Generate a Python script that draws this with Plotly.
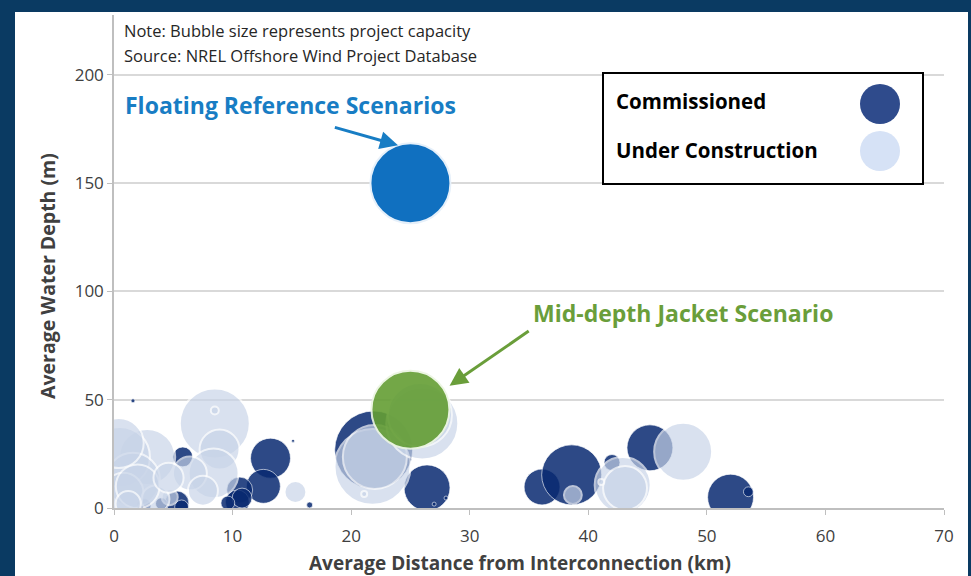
import plotly.graph_objects as go

# ---------------- data ----------------
# Commissioned projects: distance (km), depth (m), capacity (MW)
comm_x = [1.6, 36.1, 38.6, 42.0, 45.2, 52.0, 21.9, 26.4, 28.0, 27.0, 16.5, 15.1,
          13.2, 12.6, 10.6, 5.8, 5.3, 10.4, 10.8, 9.6, 5.7, 4.0, 2.5, 53.5]
comm_y = [49.5, 9.7, 15.3, 21.0, 27.8, 5.0, 26.8, 9.3, 4.6, 1.8, 1.4, 31.0,
          23.0, 10.0, 8.3, 23.6, 2.3, 2.8, 4.6, 2.3, 0.5, 2.0, 1.0, 7.5]
comm_cap = [1.5, 121, 338, 24, 198, 198, 570, 198, 1.5, 1.5, 3.4, 0.5,
            150, 108, 63, 37, 54, 54, 37, 18, 18, 13, 20, 9]

# Under construction projects
uc_x = [38.7, 42.9, 43.1, 41.1, 48.0, 21.8, 22.0, 21.1, 15.3, 8.5, 8.5, 8.9,
        2.8, 0.5, 8.4, 6.4, 4.7, 1.6, 0.8, 26.0, 25.8, 3.5, 7.5,
        0.4, 2.0, 4.6, 1.2]
uc_y = [6.0, 10.6, 9.2, 12.0, 26.0, 19.0, 23.6, 6.5, 7.4, 39.0, 45.0, 27.0,
        23.6, 23.6, 16.0, 16.0, 5.0, 13.0, 7.0, 39.0, 43.0, 4.0, 8.0,
        30.0, 10.0, 14.0, 2.0]
uc_cap = [30, 294, 181, 3.4, 315, 541, 384, 3.4, 45, 459, 6, 150,
          294, 338, 234, 108, 24, 273, 150, 486, 384, 73, 84,
          234, 180, 85, 60]

# Reference scenarios
float_x, float_y, float_cap = [25.0], [150.0], [600]
mid_x, mid_y, mid_cap = [25.0], [45.4], [570]

x_ticks = [0, 10, 20, 30, 40, 50, 60, 70]
y_ticks = [0, 50, 100, 150, 200]

SIZEREF = 0.1875
FONT = "Open Sans"
TXT = "#404040"

fig = go.Figure()

fig.add_trace(go.Scatter(
    x=comm_x, y=comm_y, mode="markers", name="Commissioned",
    marker=dict(size=comm_cap, sizemode="area", sizeref=SIZEREF, sizemin=1.5,
                color="rgb(9,42,113)", opacity=0.85,
                line=dict(color="rgba(255,255,255,0.7)", width=1)),
    showlegend=False, hoverinfo="x+y"))

fig.add_trace(go.Scatter(
    x=uc_x, y=uc_y, mode="markers", name="Under Construction",
    marker=dict(size=uc_cap, sizemode="area", sizeref=SIZEREF, sizemin=1.5,
                color="rgb(200,212,232)", opacity=0.68,
                line=dict(color="white", width=2)),
    showlegend=False, hoverinfo="x+y"))

fig.add_trace(go.Scatter(
    x=mid_x, y=mid_y, mode="markers", name="Mid-depth Jacket Scenario",
    marker=dict(size=mid_cap, sizemode="area", sizeref=SIZEREF,
                color="rgb(100,158,52)", opacity=0.9,
                line=dict(color="rgba(235,245,225,1)", width=2)),
    showlegend=False, hoverinfo="x+y"))

fig.add_trace(go.Scatter(
    x=float_x, y=float_y, mode="markers", name="Floating Reference Scenarios",
    marker=dict(size=float_cap, sizemode="area", sizeref=SIZEREF,
                color="rgb(16,112,192)", opacity=1,
                line=dict(color="rgba(230,240,250,1)", width=2)),
    showlegend=False, hoverinfo="x+y"))

# ---------------- layout ----------------
L, R, T, B = 114, 27, 15, 68
W, H = 971, 576
pw, ph = W - L - R, H - T - B

def px_x(p):
    return (p - L) / pw

def px_y(p):
    return (H - B - p) / ph

shapes = [
    # white page panel
    dict(type="rect", xref="paper", yref="paper", x0=px_x(15), x1=px_x(968),
         y0=px_y(580), y1=px_y(12), fillcolor="white", line=dict(width=0),
         layer="below"),
    # legend box
    dict(type="rect", xref="paper", yref="paper", x0=px_x(603), x1=px_x(923),
         y0=px_y(184), y1=px_y(73), fillcolor="white",
         line=dict(color="black", width=2), layer="above"),
    dict(type="circle", xref="paper", yref="paper",
         x0=px_x(860), x1=px_x(900), y0=px_y(124), y1=px_y(84),
         fillcolor="rgb(47,75,140)", line=dict(width=0)),
    dict(type="circle", xref="paper", yref="paper",
         x0=px_x(860), x1=px_x(900), y0=px_y(171), y1=px_y(131),
         fillcolor="rgb(214,226,246)", line=dict(width=0)),
]

annotations = [
    dict(text="Note: Bubble size represents project capacity", xref="paper", yref="paper",
         x=px_x(122), y=px_y(30), xanchor="left", yanchor="middle", showarrow=False,
         font=dict(family=FONT, size=16.5, color="#262626")),
    dict(text="Source: NREL Offshore Wind Project Database", xref="paper", yref="paper",
         x=px_x(122), y=px_y(55), xanchor="left", yanchor="middle", showarrow=False,
         font=dict(family=FONT, size=16.5, color="#262626")),
    dict(text="<b>Floating Reference Scenarios</b>", xref="paper", yref="paper",
         x=px_x(290), y=px_y(105), xanchor="center", yanchor="middle", showarrow=False,
         font=dict(family=FONT, size=23, color="rgb(24,125,196)")),
    dict(text="<b>Mid-depth Jacket Scenario</b>", xref="paper", yref="paper",
         x=px_x(683), y=px_y(313), xanchor="center", yanchor="middle", showarrow=False,
         font=dict(family=FONT, size=23, color="rgb(106,158,58)")),
    # arrows
    dict(text="", x=23.95, y=167.5, ax=18.5, ay=176.0, xref="x", yref="y",
         axref="x", ayref="y", showarrow=True, arrowhead=2, arrowsize=1.2,
         arrowwidth=3, arrowcolor="rgb(24,125,196)"),
    dict(text="", x=28.3, y=56.5, ax=35.1, ay=82.2, xref="x", yref="y",
         axref="x", ayref="y", showarrow=True, arrowhead=2, arrowsize=1.2,
         arrowwidth=3, arrowcolor="rgb(106,158,58)"),
    # legend text
    dict(text="<b>Commissioned</b>", xref="paper", yref="paper",
         x=px_x(614), y=px_y(101), xanchor="left", yanchor="middle", showarrow=False,
         font=dict(family=FONT, size=20.5, color="black")),
    dict(text="<b>Under Construction</b>", xref="paper", yref="paper",
         x=px_x(614), y=px_y(150), xanchor="left", yanchor="middle", showarrow=False,
         font=dict(family=FONT, size=20.5, color="black")),
    # axis titles
    dict(text="<b>Average Distance from Interconnection (km)</b>", xref="paper", yref="paper",
         x=px_x(520), y=px_y(563), xanchor="center", yanchor="middle", showarrow=False,
         font=dict(family=FONT, size=19, color=TXT)),
    dict(text="<b>Average Water Depth (m)</b>", xref="paper", yref="paper",
         x=px_x(47), y=px_y(276), xanchor="center", yanchor="middle", showarrow=False,
         textangle=-90, font=dict(family=FONT, size=19.5, color=TXT)),
]

fig.update_layout(
    width=W, height=H,
    margin=dict(l=L, r=R, t=T, b=B, pad=0),
    paper_bgcolor="rgb(10,58,98)",
    plot_bgcolor="white",
    shapes=shapes, annotations=annotations,
    showlegend=False,
    font=dict(family=FONT, color=TXT),
)
fig.update_xaxes(range=[0, 70], tickvals=x_ticks, showgrid=False, zeroline=False,
                 showline=True, linecolor="#BFBFBF", linewidth=1.5,
                 ticks="outside", ticklen=5, tickcolor="#BFBFBF",
                 ticklabelstandoff=7,
                 tickfont=dict(family=FONT, size=17, color=TXT))
fig.update_yaxes(range=[0, 227.7], tickvals=y_ticks, showgrid=True, gridcolor="#D9D9D9",
                 gridwidth=1.5, zeroline=False,
                 showline=True, linecolor="#BFBFBF", linewidth=1.5,
                 ticks="outside", ticklen=5, tickcolor="#BFBFBF",
                 tickfont=dict(family=FONT, size=17, color=TXT))

fig.write_html("out.html", config={"displayModeBar": False},
               post_script="document.body.style.margin='0';")
